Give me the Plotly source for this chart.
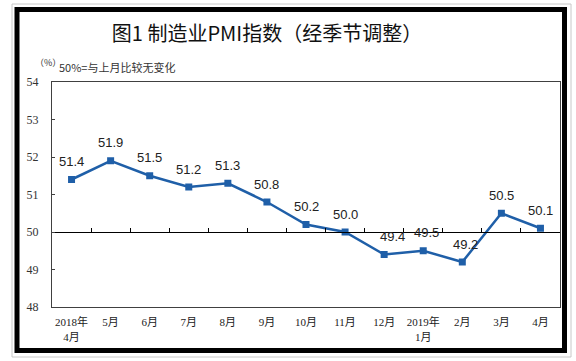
import plotly.graph_objects as go

categories = ["2018年<br>4月", "5月", "6月", "7月", "8月", "9月", "10月", "11月",
              "12月", "2019年<br>1月", "2月", "3月", "4月"]
pmi = [51.4, 51.9, 51.5, 51.2, 51.3, 50.8, 50.2, 50.0, 49.4, 49.5, 49.2, 50.5, 50.1]
label_text = ["51.4", "51.9", "51.5", "51.2", "51.3", "50.8", "50.2", "50.0",
              "49.4", "49.5", "49.2", "50.5", "50.1"]
y_ticks = [48, 49, 50, 51, 52, 53, 54]

W, H = 576, 361
L, R, T, B = 52, 560, 82, 307
PW, PH = R - L, B - T


def px(x):
    return (x - L) / PW


def py(y):
    return (B - y) / PH


LINE = "#1f5fa8"
fig = go.Figure()
fig.add_trace(go.Scatter(
    x=categories, y=pmi, mode="lines+markers",
    line=dict(color=LINE, width=2.5),
    marker=dict(symbol="square", size=7, color=LINE),
    hoverinfo="skip", showlegend=False, cliponaxis=False,
))
# invisible trace to host the y=50 reference axis
fig.add_trace(go.Scatter(
    x=categories, y=pmi, xaxis="x2", mode="markers",
    marker=dict(opacity=0), hoverinfo="skip", showlegend=False,
))

# labels near the 50 line sit slightly right of their points in the reference
label_dx = [0, 0, 0, 0, 0, 0, 0, 0, 8, 3, 3, 0, 0]
for c, v, t, dx in zip(categories, pmi, label_text, label_dx):
    fig.add_annotation(x=c, y=v, text=t, showarrow=False, yshift=18, xshift=dx,
                       font=dict(family="Liberation Sans, Arial", size=13, color="#222222"))

fig.update_layout(
    width=W, height=H,
    margin=dict(l=L, r=W - R, t=T, b=H - B),
    paper_bgcolor="white", plot_bgcolor="white",
    title=dict(text="图1 制造业PMI指数（经季节调整）",
               x=267 / W, xanchor="center", y=1 - 34 / H, yanchor="middle",
               font=dict(family="Noto Sans CJK SC", size=20, color="#111111")),
    xaxis=dict(type="category", range=[-0.5, 12.5], showline=True, linecolor="#404040",
               linewidth=1, mirror=True, ticks="", showgrid=False, zeroline=False,
               tickfont=dict(family="Liberation Serif, Noto Sans CJK SC", size=11, color="#222222"),
               ticklabelstandoff=5),
    xaxis2=dict(type="category", range=[-0.5, 12.5], overlaying="x", anchor="free",
                position=(50 - 48) / 6, side="bottom", showline=True, linecolor="#000000",
                linewidth=1, ticks="inside", tickson="boundaries", ticklen=4,
                tickcolor="#000000", showticklabels=False, showgrid=False, zeroline=False),
    yaxis=dict(range=[48, 54], tickvals=y_ticks, showline=True, linecolor="#404040",
               linewidth=1, mirror=True, ticks="inside", ticklen=3, tickcolor="#404040",
               showgrid=False, zeroline=False, ticklabelstandoff=10,
               tickfont=dict(family="Liberation Serif", size=12, color="#333333")),
)

# subtitle texts
fig.add_annotation(x=px(33), y=py(62), xref="paper", yref="paper", xanchor="left",
                   yanchor="middle", showarrow=False, text="（%）",
                   font=dict(family="Noto Sans CJK SC", size=9, color="#333333"))
fig.add_annotation(x=px(57), y=py(67), xref="paper", yref="paper", xanchor="left",
                   yanchor="middle", showarrow=False, text="50%=与上月比较无变化",
                   font=dict(family="Noto Sans CJK SC", size=11, color="#333333"))

# outer frames
fig.add_shape(type="rect", xref="paper", yref="paper",
              x0=px(12), x1=px(571), y0=py(4), y1=py(357),
              line=dict(color="#c8c8c8", width=1), layer="below")
fig.add_shape(type="rect", xref="paper", yref="paper",
              x0=px(17), x1=px(564.5), y0=py(9.5), y1=py(350.5),
              line=dict(color="#000000", width=5), layer="below")

fig.write_html("out.html", config={"displayModeBar": False},
               post_script="document.body.style.margin='0';document.body.style.overflow='hidden';")
